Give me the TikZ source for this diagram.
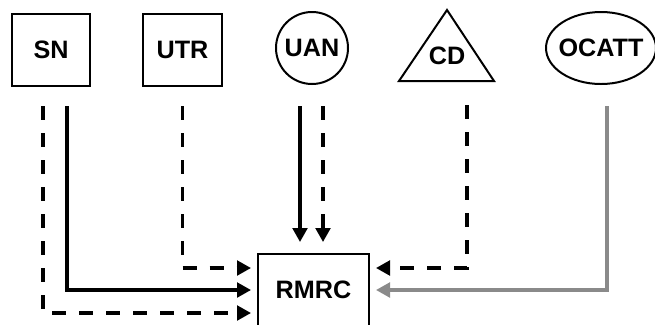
\documentclass[tikz,border=0pt]{standalone}
\usepackage{fontspec}
\setmainfont{Liberation Sans}
\usetikzlibrary{arrows.meta,calc,shapes.geometric}
\definecolor{linkgray}{HTML}{8A8A8A}

\begin{document}
\begin{tikzpicture}[x=0.03cm,y=-0.03cm,
    font=\fontsize{21.5}{25}\selectfont\bfseries,
    box/.style={draw,line width=1.7pt,inner sep=0pt},
    link/.style={line width=2.7pt,-{Triangle[length=0.42cm,width=0.44cm]},shorten >=0.18cm},
    dashlink/.style={link,dash pattern=on 0.42cm off 0.39cm}]
  \useasboundingbox (0,0) rectangle (655,324);
  \node[box,minimum width=2.34cm,minimum height=2.16cm] (SN) at (51,50) {SN};
  \node[box,minimum width=2.37cm,minimum height=2.16cm] (UTR) at (182.5,50) {UTR};
  \node[box,circle,minimum size=2.16cm] (UAN) at (312,48) {UAN};
  \node (CD) at (447,56) {CD};
  \draw[line width=1.7pt] (447,10) -- (494,81) -- (399,81) -- cycle;
  \coordinate (CDbase) at (447,81);
  \node[box,ellipse,inner xsep=-0.12cm,minimum width=3.3cm,minimum height=2.16cm] (OCATT) at (601,48) {OCATT};
  \node[box,minimum width=3.33cm,minimum height=2.16cm] (RMRC) at (313.5,290) {RMRC};
  \begin{scope}
    \draw[dashlink,shorten <=0.57cm] ([xshift=-0.24cm]SN.south) |- ([yshift=-0.69cm]RMRC.west);
    \draw[link,shorten <=0.57cm] ([xshift=0.48cm]SN.south) |- (RMRC.west);
    \draw[dashlink,shorten <=0.57cm] (UTR.south) |- ([yshift=0.66cm]RMRC.west);
    \draw[link,shorten <=0.63cm,shorten >=0.33cm] ([xshift=-0.36cm]UAN.south) -- ([xshift=-0.36cm]UAN.south |- RMRC.north);
    \draw[dashlink,shorten <=0.63cm,shorten >=0.33cm] ([xshift=0.33cm]UAN.south) -- ([xshift=0.33cm]UAN.south |- RMRC.north);
    \draw[dashlink,shorten <=0.72cm] ([xshift=0.6cm]CDbase) |- ([yshift=0.66cm]RMRC.east);
    \draw[link,linkgray,shorten <=0.63cm] ([xshift=0.18cm]OCATT.south) |- (RMRC.east);
  \end{scope}
\end{tikzpicture}
\end{document}
